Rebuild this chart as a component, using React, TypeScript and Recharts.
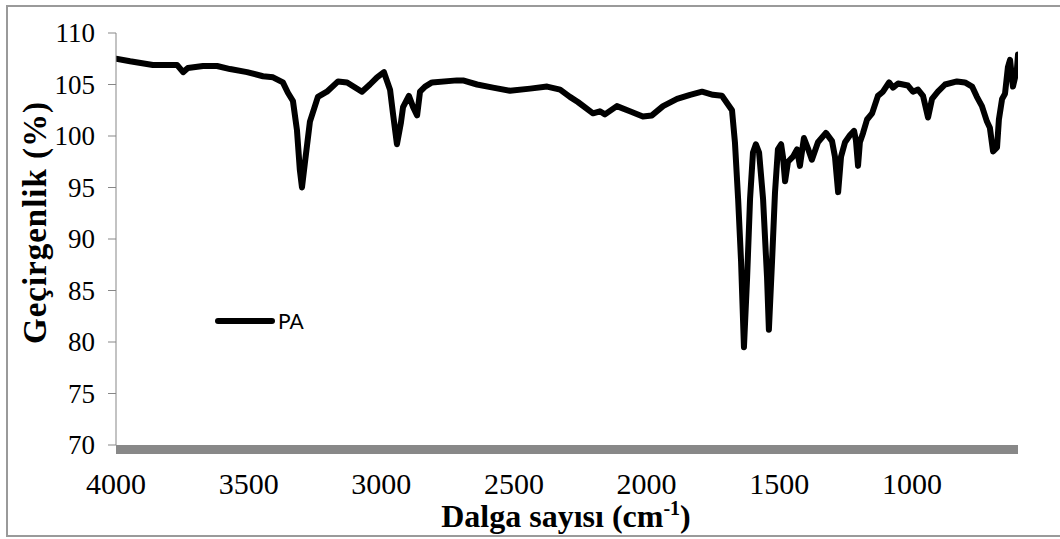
import { LineChart, Line, XAxis, YAxis, Legend, Label } from 'recharts';

// FTIR spectrum of PA (wavenumber in cm-1, transmittance in %)
const wavenumbers = [
  4000, 3947, 3861, 3770, 3747, 3729, 3672, 3619, 3570, 3506, 3446, 3408, 3371, 3352, 3333,
  3318, 3307, 3299, 3288, 3269, 3239, 3205, 3163, 3129, 3073, 3043, 3016, 2990, 2967, 2956,
  2941, 2926, 2918, 2896, 2880, 2865, 2854, 2835, 2809, 2715, 2692, 2639, 2579, 2515, 2439,
  2375, 2326, 2289, 2259, 2202, 2176, 2157, 2112, 2063, 2014, 1980, 1938, 1885, 1836, 1791,
  1750, 1716, 1697, 1678, 1667, 1655, 1644, 1633, 1621, 1610, 1599, 1588, 1576, 1561, 1546,
  1539, 1527, 1516, 1505, 1493, 1486, 1478, 1467, 1448, 1433, 1422, 1407, 1392, 1377, 1354,
  1324, 1301, 1290, 1278, 1267, 1252, 1233, 1218, 1211, 1203, 1196, 1184, 1169, 1150, 1128,
  1109, 1086, 1071, 1052, 1015, 996, 977, 958, 939, 924, 902, 875, 830, 800, 773,
  755, 736, 717, 706, 694, 679, 672, 660, 649, 638, 630, 619, 604, 600,
];

const transmittance = [
  107.5, 107.25, 106.9, 106.9, 106.2, 106.6, 106.8, 106.8, 106.5, 106.2, 105.8, 105.7, 105.2, 104.2, 103.4,
  100.6, 96.7, 95.0, 97.4, 101.4, 103.8, 104.3, 105.3, 105.2, 104.3, 105.0, 105.7, 106.2, 104.5, 102.2,
  99.2, 101.3, 102.8, 103.9, 102.8, 102.0, 104.3, 104.8, 105.2, 105.4, 105.4, 105.0, 104.7, 104.4, 104.6,
  104.8, 104.5, 103.8, 103.3, 102.2, 102.4, 102.1, 102.9, 102.4, 101.9, 102.0, 102.9, 103.6, 104.0, 104.3,
  104.0, 103.9, 103.2, 102.5, 99.4, 93.9, 87.9, 79.5, 86.3, 93.9, 98.4, 99.2, 98.4, 93.9, 86.3,
  81.2, 87.9, 94.5, 98.7, 99.2, 98.0, 95.6, 97.5, 98.0, 98.7, 97.1, 99.8, 98.8, 97.7, 99.4,
  100.3, 99.5, 98.0, 94.55, 98.0, 99.4, 100.1, 100.5, 99.6, 97.1, 99.4, 100.3, 101.6, 102.2, 103.9,
  104.3, 105.2, 104.7, 105.1, 104.9, 104.3, 104.5, 103.9, 101.8, 103.6, 104.3, 105.0, 105.3, 105.2, 104.8,
  103.8, 102.9, 101.4, 100.8, 98.5, 98.9, 101.6, 103.6, 104.1, 106.7, 107.4, 104.8, 106.5, 107.9,
];

const xTicks = [4000, 3500, 3000, 2500, 2000, 1500, 1000];
const yTicks = [70, 75, 80, 85, 90, 95, 100, 105, 110];
const seriesName = 'PA';

const data = wavenumbers.map((wn, i) => ({ wn, pa: transmittance[i] }));

const serif = "'Liberation Serif', 'Times New Roman', serif";
const axisGray = '#878787';

const renderXTick = (props: any) => {
  const { x, y, payload } = props;
  return (
    <text key={`xt-${payload.value}`} x={x} y={y + 45} textAnchor="middle"
      style={{ fontFamily: serif, fontSize: 30 }} fill="#000">
      {payload.value}
    </text>
  );
};

const renderYTick = (props: any) => {
  const { x, y, payload } = props;
  return (
    <text key={`yt-${payload.value}`} x={x} y={y + 9} textAnchor="end"
      style={{ fontFamily: serif, fontSize: 27 }} fill="#000">
      {payload.value}
    </text>
  );
};

const XTitle = ({ viewBox }: any) => (
  <text x={viewBox.x + viewBox.width / 2 - 1} y={527} textAnchor="middle"
    style={{ fontFamily: serif, fontWeight: 'bold', fontSize: 32 }} fill="#000">
    Dalga sayısı (cm<tspan dy={-12} fontSize={20}>-1</tspan><tspan dy={12}>)</tspan>
  </text>
);

const YTitle = () => (
  <text x={46} y={223} transform="rotate(-90, 46, 223)" textAnchor="middle"
    style={{ fontFamily: serif, fontWeight: 'bold', fontSize: 33 }} fill="#000"
    textLength={242} lengthAdjust="spacing">
    Geçirgenlik (%)
  </text>
);

const LegendBox = () => (
  <div style={{ display: 'flex', alignItems: 'center' }}>
    <svg width={62} height={12}>
      <line x1={3} y1={6} x2={57} y2={6} stroke="#000" strokeWidth={6} strokeLinecap="round" />
    </svg>
    <span style={{ fontFamily: 'Lato, sans-serif', fontSize: 21, color: '#000', marginLeft: 1 }}>{seriesName}</span>
  </div>
);

export default function App() {
  return (
    <div style={{ position: 'fixed', left: 0, top: 0, width: 1060, height: 539, overflow: 'hidden', background: '#fff' }}>
      <div style={{ position: 'absolute', left: 6, top: 5, width: 1100, height: 532, boxSizing: 'border-box', border: '2px solid #9a9a9a' }} />
      <div style={{ position: 'absolute', left: 0, top: 0 }}>
        <LineChart width={1060} height={539} data={data} margin={{ top: 33, right: 42, bottom: 9, left: 56 }}>
          <XAxis
            dataKey="wn"
            type="number"
            domain={[600, 4000]}
            reversed
            ticks={xTicks}
            allowDataOverflow
            height={85}
            tickLine={false}
            tickSize={0}
            tickMargin={4}
            axisLine={{ stroke: '#888888', strokeWidth: 9, transform: 'translate(0, 4.5)' }}
            tick={renderXTick}
          >
            <Label content={<XTitle />} />
          </XAxis>
          <YAxis
            type="number"
            domain={[70, 110]}
            ticks={yTicks}
            width={60}
            tickSize={8}
            tickMargin={13}
            axisLine={{ stroke: axisGray }}
            tickLine={{ stroke: axisGray }}
            tick={renderYTick}
          >
            <Label content={<YTitle />} />
          </YAxis>
          <Legend
            layout="vertical"
            align="center"
            verticalAlign="middle"
            wrapperStyle={{ left: 215, top: 308, width: 'auto' }}
            content={<LegendBox />}
          />
          <Line
            type="linear"
            dataKey="pa"
            name={seriesName}
            stroke="#000"
            strokeWidth={6}
            strokeLinejoin="round"
            strokeLinecap="round"
            dot={false}
            isAnimationActive={false}
          />
        </LineChart>
      </div>
    </div>
  );
}
